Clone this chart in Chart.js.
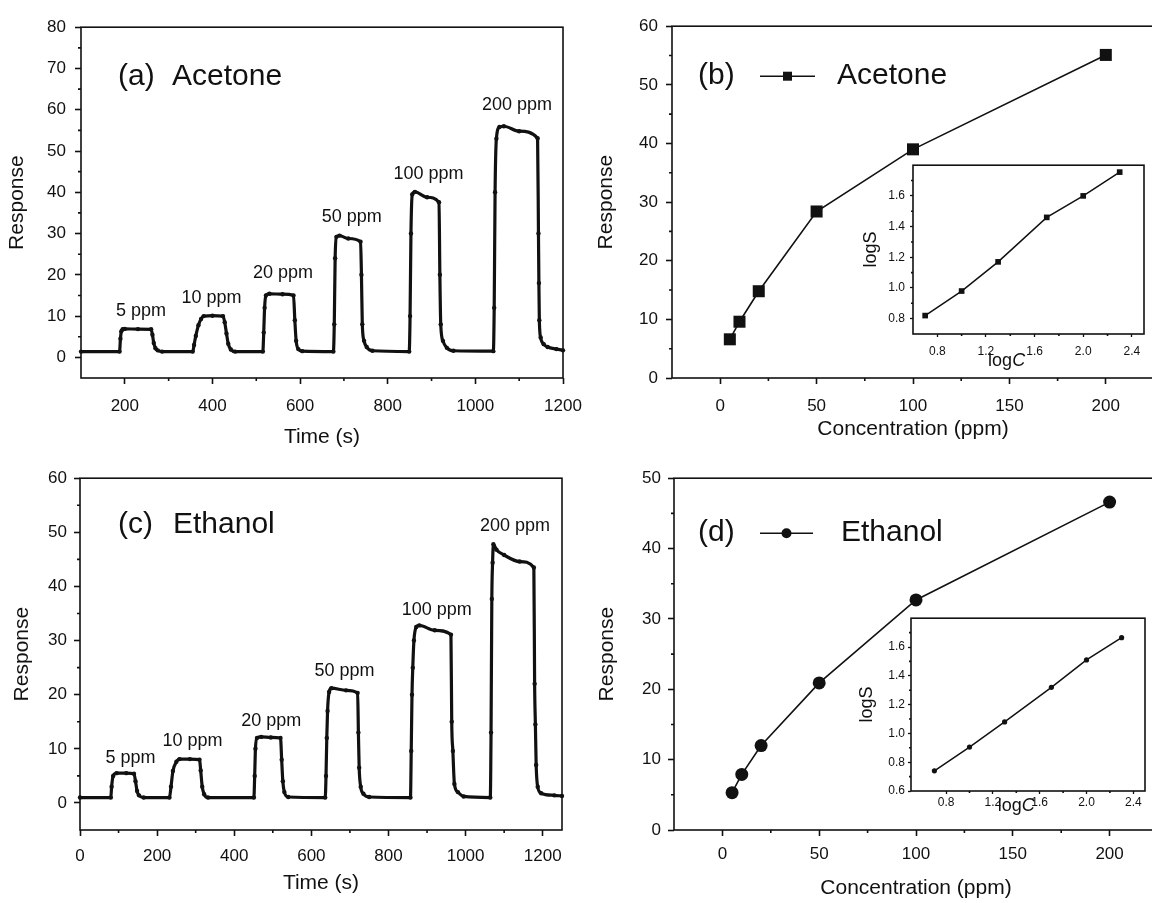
<!DOCTYPE html>
<html>
<head>
<meta charset="utf-8">
<script src="https://cdn.jsdelivr.net/npm/chart.js@4.4.1/dist/chart.umd.min.js"></script>
<style>
  html, body { margin: 0; padding: 0; background: #fff; width: 1152px; height: 903px; overflow: hidden; }
  canvas { position: absolute; }
</style>
</head>
<body>
<script>
// ---- (a) acetone transient ----
const timeA = [100, 188, 190, 192, 195, 200, 230, 260, 263, 266, 270, 275, 285,
  355, 358, 362, 368, 374, 380, 400, 424, 428, 432, 436, 442, 452,
  515, 517, 519, 522, 530, 560, 585, 588, 591, 596, 605,
  676, 678, 680, 683, 690, 710, 738, 740, 742, 746, 752, 765,
  849, 851, 853, 856, 862, 890, 917, 919, 921, 926, 935, 950,
  1041, 1043, 1045, 1048, 1055, 1065, 1100, 1142, 1144, 1145, 1146, 1149, 1156, 1165, 1185, 1200];
const respA = [1.4, 1.4, 4.5, 6.3, 6.8, 6.9, 6.85, 6.8, 5.5, 3.5, 2.2, 1.7, 1.4,
  1.4, 3.0, 5.2, 7.8, 9.3, 10.0, 10.1, 10.0, 8.5, 5.8, 3.3, 1.9, 1.4,
  1.4, 6.0, 12.0, 15.0, 15.4, 15.3, 15.0, 9.0, 4.0, 2.0, 1.5,
  1.4, 8.0, 24.0, 29.2, 29.5, 28.8, 28.0, 20.0, 8.0, 4.0, 2.5, 1.6,
  1.4, 10.0, 30.0, 39.5, 40.1, 38.8, 37.6, 20.0, 8.0, 4.0, 2.3, 1.6,
  1.5, 12.0, 40.0, 53.0, 55.8, 56.0, 54.8, 53.1, 30.0, 18.0, 9.0, 4.8, 3.2, 2.5, 2.0, 1.7];

// ---- (c) ethanol transient ----
const timeE = [0, 80, 82, 86, 95, 120, 140, 144, 148, 153, 165,
  232, 236, 241, 250, 258, 285, 310, 313, 317, 322, 332,
  451, 453, 455, 459, 470, 495, 520, 523, 526, 530, 540,
  636, 638, 640, 642, 646, 652, 690, 720, 722, 724, 728, 735, 750,
  857, 859, 861, 863, 866, 872, 880, 920, 962, 964, 967, 971, 980, 995,
  1064, 1066, 1068, 1070, 1072, 1080, 1100, 1140, 1177, 1179, 1181, 1183, 1187, 1196, 1230, 1250];
const respE = [1.0, 1.0, 3.0, 5.0, 5.5, 5.5, 5.4, 4.0, 2.2, 1.4, 1.0,
  1.0, 3.0, 5.9, 7.6, 8.1, 8.1, 8.0, 6.0, 3.0, 1.6, 1.0,
  1.0, 5.0, 10.0, 12.0, 12.2, 12.1, 12.0, 8.0, 4.0, 2.0, 1.1,
  1.0, 5.0, 12.0, 17.0, 20.5, 21.2, 20.8, 20.3, 13.0, 6.5, 3.0, 1.7, 1.1,
  1.0, 9.6, 20.0, 25.0, 30.0, 32.5, 32.8, 31.9, 31.1, 15.0, 9.6, 3.5, 2.0, 1.2,
  1.0, 13.0, 37.7, 44.4, 47.8, 46.8, 45.8, 44.6, 43.5, 22.0, 14.5, 7.0, 3.0, 1.8, 1.4, 1.3];

// concentration labels above each pulse
const ppmLabels = ['5 ppm', '10 ppm', '20 ppm', '50 ppm', '100 ppm', '200 ppm'];
const labelTimeA = [237, 398, 561, 718, 893, 1095];
const labelRespA = [10.1, 13.2, 19.2, 32.8, 43.1, 60.0];
const labelTimeE = [131, 292, 496, 686, 925, 1128];
const labelRespE = [7.4, 10.5, 14.2, 23.5, 34.8, 50.2];

// ---- (b)/(d) response vs concentration ----
const conc = [5, 10, 20, 50, 100, 200];
const peakA = [6.6, 9.6, 14.8, 28.4, 39.0, 55.1];
const peakE = [5.3, 7.9, 12.0, 20.9, 32.7, 46.6];

// log-log insets
const logC = [0.70, 1.00, 1.30, 1.70, 2.00, 2.30];
const logSA = [0.82, 0.98, 1.17, 1.46, 1.60, 1.755];
const logSE = [0.74, 0.905, 1.08, 1.32, 1.51, 1.665];

// tick values
const ticksTimeA = [200, 400, 600, 800, 1000, 1200];
const minorTimeA = [300, 500, 700, 900, 1100];
const ticksRespA = [0, 10, 20, 30, 40, 50, 60, 70, 80];
const minorRespA = [5, 15, 25, 35, 45, 55, 65, 75];
const ticksTimeE = [0, 200, 400, 600, 800, 1000, 1200];
const minorTimeE = [100, 300, 500, 700, 900, 1100];
const ticksRespE = [0, 10, 20, 30, 40, 50, 60];
const minorRespE = [5, 15, 25, 35, 45, 55];
const ticksConc = [0, 50, 100, 150, 200];
const minorConc = [25, 75, 125, 175];
const ticksPeakA = [0, 10, 20, 30, 40, 50, 60];
const minorPeakA = [5, 15, 25, 35, 45, 55];
const ticksPeakE = [0, 10, 20, 30, 40, 50];
const minorPeakE = [5, 15, 25, 35, 45];
const ticksLogC = [0.8, 1.2, 1.6, 2.0, 2.4];
const minorLogC = [1.0, 1.4, 1.8, 2.2];
const ticksLogSA = [0.8, 1.0, 1.2, 1.4, 1.6];
const minorLogSA = [0.9, 1.1, 1.3, 1.5, 1.7];
const ticksLogSE = [0.6, 0.8, 1.0, 1.2, 1.4, 1.6];
const minorLogSE = [0.7, 0.9, 1.1, 1.3, 1.5, 1.7];

const INK = '#111';
const FONT = '"Liberation Sans", Arial, Helvetica, sans-serif';

function pts(xs, ys) { return xs.map((x, i) => ({ x: x, y: ys[i] })); }

function place(left, top, width, height) {
  const c = document.createElement('canvas');
  c.width = width; c.height = height;
  c.style.left = left + 'px'; c.style.top = top + 'px';
  c.style.width = width + 'px'; c.style.height = height + 'px';
  document.body.appendChild(c);
  return c;
}

function axis(o) {
  return {
    type: 'linear',
    min: o.min, max: o.max,
    afterBuildTicks: s => { s.ticks = o.ticks.map(v => ({ value: v })); },
    afterFit: s => { if (o.w) s.width = o.w; if (o.h) s.height = o.h; },
    grid: { drawOnChartArea: false, drawTicks: true, tickLength: o.tickLen, tickColor: INK, tickWidth: o.lw },
    border: { display: false },
    ticks: {
      color: INK, padding: o.pad, autoSkip: false, maxRotation: 0,
      font: { family: FONT, size: o.tickSize },
      callback: v => o.dec ? v.toFixed(o.dec) : String(v)
    },
    title: {
      display: !!o.title, text: o.title, color: INK, padding: 0,
      font: { family: FONT, size: o.titleSize }
    }
  };
}

// frame, minor ticks and text for one panel
function deco(cfg) {
  return {
    id: 'deco',
    afterDraw(chart) {
      const { ctx, chartArea: a } = chart;
      const sx = chart.scales.x, sy = chart.scales.y;
      ctx.save();
      ctx.strokeStyle = INK; ctx.fillStyle = INK;
      ctx.lineWidth = cfg.lw;
      ctx.strokeRect(a.left, a.top, a.right - a.left, a.bottom - a.top);
      ctx.beginPath();
      cfg.minorX.forEach(v => {
        const px = sx.getPixelForValue(v);
        ctx.moveTo(px, a.bottom); ctx.lineTo(px, a.bottom + cfg.minorLen);
      });
      cfg.minorY.forEach(v => {
        const py = sy.getPixelForValue(v);
        ctx.moveTo(a.left, py); ctx.lineTo(a.left - cfg.minorLen, py);
      });
      ctx.stroke();

      if (cfg.notes) {
        ctx.font = '18px ' + FONT;
        ctx.textAlign = 'center';
        ctx.textBaseline = 'alphabetic';
        cfg.notes.text.forEach((t, i) => {
          ctx.fillText(t, sx.getPixelForValue(cfg.notes.x[i]), sy.getPixelForValue(cfg.notes.y[i]));
        });
      }

      if (cfg.tag) {
        const g = cfg.tag;
        ctx.font = '30px ' + FONT;
        ctx.textAlign = 'left';
        ctx.textBaseline = 'alphabetic';
        ctx.fillText(g.label, a.left + g.dx, a.top + g.dy);
        ctx.fillText(g.name, a.left + g.nameDx, a.top + g.dy);
        if (g.key) {
          const k = g.key, y = a.top + k.dy;
          ctx.lineWidth = 1.6;
          ctx.beginPath();
          ctx.moveTo(a.left + k.x0, y); ctx.lineTo(a.left + k.x1, y);
          ctx.stroke();
          const mx = a.left + (k.x0 + k.x1) / 2;
          ctx.beginPath();
          if (k.shape === 'rect') ctx.rect(mx - k.size / 2, y - k.size / 2, k.size, k.size);
          else ctx.arc(mx, y, k.size / 2, 0, Math.PI * 2);
          ctx.fill();
        }
      }

      if (cfg.logTitle) {
        const t = cfg.logTitle;
        const px = sx.getPixelForValue(t.x), py = a.bottom + t.dy;
        ctx.textBaseline = 'alphabetic';
        ctx.textAlign = 'left';
        ctx.font = t.size + 'px ' + FONT;
        const w1 = ctx.measureText('log').width;
        ctx.font = 'italic ' + t.size + 'px ' + FONT;
        const w2 = ctx.measureText('C').width;
        const x0 = px - (w1 + w2) / 2;
        ctx.font = t.size + 'px ' + FONT;
        ctx.fillText('log', x0, py);
        ctx.font = 'italic ' + t.size + 'px ' + FONT;
        ctx.fillText('C', x0 + w1, py);
      }
      ctx.restore();
    }
  };
}

function panel(box, datasets, xAxis, yAxis, decoCfg) {
  // box: chart area edges plus the space kept for each axis
  const left = box.L - box.wy, top = box.T - box.pt;
  const width = box.R + box.pr - left, height = box.B + box.hx - top;
  const canvas = place(left, top, width, height);
  xAxis.h = box.hx; yAxis.w = box.wy;
  return new Chart(canvas, {
    type: 'line',
    data: { datasets: datasets },
    options: {
      responsive: false, animation: false, devicePixelRatio: 1,
      layout: { padding: { left: 0, top: box.pt, right: box.pr, bottom: 0 } },
      plugins: { legend: { display: false }, tooltip: { enabled: false } },
      scales: { x: axis(xAxis), y: axis(yAxis) }
    },
    plugins: [deco(decoCfg)]
  });
}

function transient(xs, ys) {
  return {
    data: pts(xs, ys), borderColor: INK, backgroundColor: INK, borderWidth: 3.2,
    pointRadius: 2.2, pointBorderWidth: 0, cubicInterpolationMode: 'monotone', clip: false
  };
}

function calib(xs, ys, shape, r, bw) {
  return {
    data: pts(xs, ys), borderColor: INK, backgroundColor: INK, borderWidth: bw,
    pointStyle: shape, pointRadius: r, pointBorderWidth: 0, clip: false
  };
}

// (a) acetone response vs time
panel({ L: 81, R: 563, T: 22, B: 378, wy: 76, hx: 72, pt: 14, pr: 45 },
  [transient(timeA, respA)],
  { min: 100, max: 1200, ticks: ticksTimeA, tickLen: 6, lw: 1.6, pad: 12, tickSize: 17, title: 'Time (s)', titleSize: 21 },
  { min: -5, max: 80, ticks: ticksRespA, tickLen: 6, lw: 1.6, pad: 9, tickSize: 17, title: 'Response', titleSize: 21 },
  { lw: 1.6, minorLen: 3, minorX: minorTimeA, minorY: minorRespA,
    notes: { text: ppmLabels, x: labelTimeA, y: labelRespA },
    tag: { label: '(a)', name: 'Acetone', dx: 37, nameDx: 91, dy: 58 } });

// (b) acetone response vs concentration
panel({ L: 672, R: 1154, T: 22, B: 378, wy: 78, hx: 64, pt: 14, pr: 45 },
  [calib(conc, peakA, 'rect', 8.5, 1.6)],
  { min: -25, max: 225, ticks: ticksConc, tickLen: 6, lw: 1.6, pad: 12, tickSize: 17, title: 'Concentration (ppm)', titleSize: 21 },
  { min: 0, max: 60, ticks: ticksPeakA, tickLen: 6, lw: 1.6, pad: 8, tickSize: 17, title: 'Response', titleSize: 21 },
  { lw: 1.6, minorLen: 3, minorX: minorConc, minorY: minorPeakA,
    tag: { label: '(b)', name: 'Acetone', dx: 26, nameDx: 165, dy: 58,
      key: { x0: 88, x1: 143, dy: 50, shape: 'rect', size: 9 } } });

// (c) ethanol response vs time
panel({ L: 80, R: 562, T: 475, B: 830, wy: 70, hx: 66, pt: 14, pr: 45 },
  [transient(timeE, respE)],
  { min: 0, max: 1250, ticks: ticksTimeE, tickLen: 6, lw: 1.6, pad: 10, tickSize: 17, title: 'Time (s)', titleSize: 21 },
  { min: -5, max: 60, ticks: ticksRespE, tickLen: 6, lw: 1.6, pad: 7, tickSize: 17, title: 'Response', titleSize: 21 },
  { lw: 1.6, minorLen: 3, minorX: minorTimeE, minorY: minorRespE,
    notes: { text: ppmLabels, x: labelTimeE, y: labelRespE },
    tag: { label: '(c)', name: 'Ethanol', dx: 38, nameDx: 93, dy: 55 } });

// (d) ethanol response vs concentration
panel({ L: 674, R: 1158, T: 475, B: 830, wy: 79, hx: 71, pt: 14, pr: 45 },
  [calib(conc, peakE, 'circle', 6.5, 1.6)],
  { min: -25, max: 225, ticks: ticksConc, tickLen: 6, lw: 1.6, pad: 8, tickSize: 17, title: 'Concentration (ppm)', titleSize: 21 },
  { min: 0, max: 50, ticks: ticksPeakE, tickLen: 6, lw: 1.6, pad: 7, tickSize: 17, title: 'Response', titleSize: 21 },
  { lw: 1.6, minorLen: 3, minorX: minorConc, minorY: minorPeakE,
    tag: { label: '(d)', name: 'Ethanol', dx: 24, nameDx: 167, dy: 63,
      key: { x0: 86, x1: 139, dy: 55, shape: 'circle', size: 10 } } });

// inset of (b): log S vs log C
panel({ L: 913, R: 1144, T: 163, B: 334, wy: 53, hx: 37, pt: 10, pr: 25 },
  [calib(logC, logSA, 'rect', 4, 1.5)],
  { min: 0.6, max: 2.5, ticks: ticksLogC, tickLen: 3, lw: 1.3, pad: 7, tickSize: 12, dec: 1 },
  { min: 0.7, max: 1.8, ticks: ticksLogSA, tickLen: 3, lw: 1.3, pad: 5, tickSize: 12, dec: 1, title: 'logS', titleSize: 18 },
  { lw: 1.6, minorLen: 2, minorX: minorLogC, minorY: minorLogSA,
    logTitle: { x: 1.37, dy: 32, size: 18 } });

// inset of (d): log S vs log C
panel({ L: 911, R: 1145, T: 618, B: 791, wy: 55, hx: 26, pt: 10, pr: 25 },
  [calib(logC, logSE, 'circle', 2.6, 1.5)],
  { min: 0.5, max: 2.5, ticks: ticksLogC, tickLen: 3, lw: 1.3, pad: 1, tickSize: 12, dec: 1 },
  { min: 0.6, max: 1.8, ticks: ticksLogSE, tickLen: 3, lw: 1.3, pad: 3, tickSize: 12, dec: 1, title: 'logS', titleSize: 18 },
  { lw: 1.6, minorLen: 2, minorX: minorLogC, minorY: minorLogSE,
    logTitle: { x: 1.40, dy: 20, size: 18 } });
</script>
</body>
</html>
